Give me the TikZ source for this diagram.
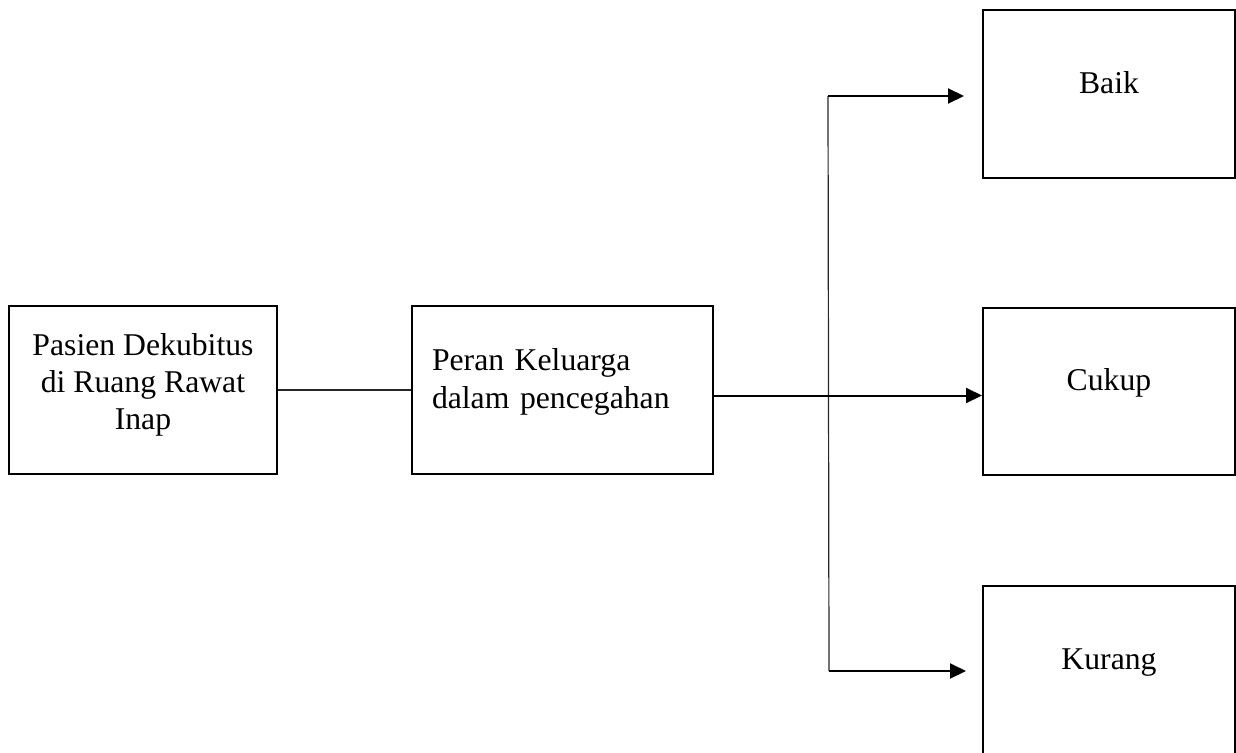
\documentclass[tikz,border=0pt]{standalone}
\usepackage{fontspec}
\setmainfont{Liberation Serif}
\usetikzlibrary{arrows.meta, positioning}
\tikzstyle{box} = [rectangle, draw=black, line width=2pt, minimum height=168pt, inner sep=0pt, font=\fontsize{31.7}{37}\selectfont]
\tikzstyle{result} = [box, minimum width=252pt, text height=22pt, text depth=24pt]
\tikzstyle{line} = [line width=1.2pt, black!85]
\tikzstyle{arrow} = [line width=2pt, -{Triangle[length=16pt,width=15pt]}]

\begin{document}
\begin{tikzpicture}[x=1pt, y=-1pt]
\clip (0,0) rectangle (1236,752);

\node (pasien) [box, minimum width=268pt, align=center, text height=86pt, text depth=8pt] at (143,390) {Pasien Dekubitus\\di Ruang Rawat\\Inap};
\node (peran) [box, right=133pt of pasien, text width=261pt, inner xsep=20pt, align=left, text height=22pt, text depth=62pt, font=\fontsize{31.7}{38}\selectfont] {Peran Keluarga\\dalam pencegahan};
\node (cukup) [result, right=268pt of peran, yshift=-1.5pt, minimum height=167pt] {Cukup};
\node (baik) [result, above=128pt of cukup] {Baik};
\node (kurang) [result, below=109pt of cukup] {Kurang};

\coordinate (split top) at (828,96);
\coordinate (split bottom) at (829,671);

\draw [line] (pasien) -- (peran);
\draw [line] (split top) -- (split bottom);
\draw [arrow] ([yshift=-5.5pt]peran.east) -- ([yshift=-5.5pt]peran.east -| cukup.west);
\draw [arrow, shorten >=18pt] (split top) -- (split top -| baik.west);
\draw [arrow, shorten >=16pt] (split bottom) -- (split bottom -| kurang.west);

\end{tikzpicture}
\end{document}
